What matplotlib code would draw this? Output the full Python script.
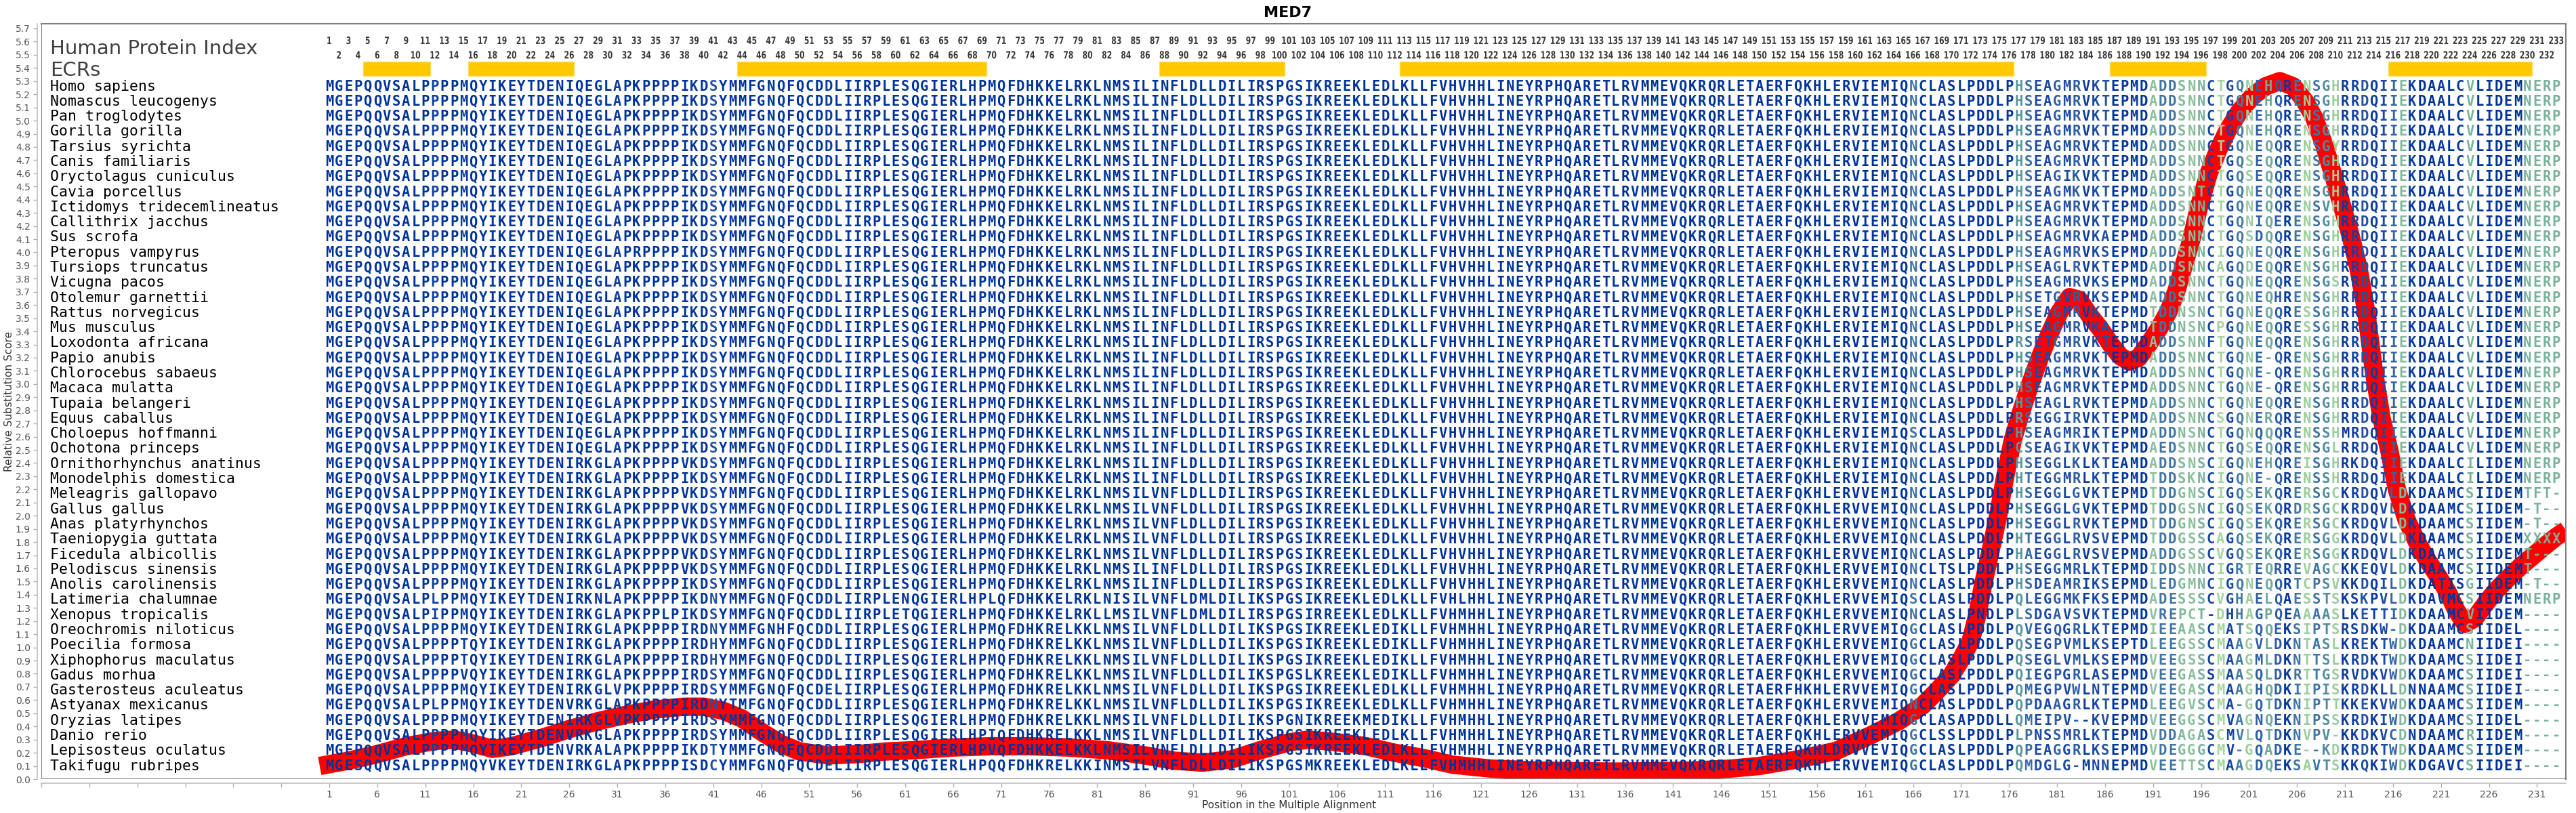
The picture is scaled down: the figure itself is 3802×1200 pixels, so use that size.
import numpy as np
import matplotlib
matplotlib.use("Agg")
import matplotlib.pyplot as plt
from matplotlib.colors import LinearSegmentedColormap, Normalize
from matplotlib.patches import Rectangle, PathPatch
from matplotlib.textpath import TextPath
from matplotlib.font_manager import FontProperties
from matplotlib.transforms import Affine2D
from collections import Counter

# species in alignment order
species = [
    "Homo sapiens", "Nomascus leucogenys", "Pan troglodytes", "Gorilla gorilla",
    "Tarsius syrichta", "Canis familiaris", "Oryctolagus cuniculus", "Cavia porcellus",
    "Ictidomys tridecemlineatus", "Callithrix jacchus", "Sus scrofa", "Pteropus vampyrus",
    "Tursiops truncatus", "Vicugna pacos", "Otolemur garnettii", "Rattus norvegicus",
    "Mus musculus", "Loxodonta africana", "Papio anubis", "Chlorocebus sabaeus",
    "Macaca mulatta", "Tupaia belangeri", "Equus caballus", "Choloepus hoffmanni",
    "Ochotona princeps", "Ornithorhynchus anatinus", "Monodelphis domestica",
    "Meleagris gallopavo", "Gallus gallus", "Anas platyrhynchos", "Taeniopygia guttata",
    "Ficedula albicollis", "Pelodiscus sinensis", "Anolis carolinensis",
    "Latimeria chalumnae", "Xenopus tropicalis", "Oreochromis niloticus",
    "Poecilia formosa", "Xiphophorus maculatus", "Gadus morhua",
    "Gasterosteus aculeatus", "Astyanax mexicanus", "Oryzias latipes", "Danio rerio",
    "Lepisosteus oculatus", "Takifugu rubripes",
]

# alignment columns 1-57
seq_a = [
    "MGEPQQVSALPPPPMQYIKEYTDENIQEGLAPKPPPPIKDSYMMFGNQFQCDDLIIR",
    "MGEPQQVSALPPPPMQYIKEYTDENIQEGLAPKPPPPIKDSYMMFGNQFQCDDLIIR",
    "MGEPQQVSALPPPPMQYIKEYTDENIQEGLAPKPPPPIKDSYMMFGNQFQCDDLIIR",
    "MGEPQQVSALPPPPMQYIKEYTDENIQEGLAPKPPPPIKDSYMMFGNQFQCDDLIIR",
    "MGEPQQVSALPPPPMQYIKEYTDENIQEGLAPKPPPPIKDSYMMFGNQFQCDDLIIR",
    "MGEPQQVSALPPPPMQYIKEYTDENIQEGLAPKPPPPIKDSYMMFGNQFQCDDLIIR",
    "MGEPQQVSALPPPPMQYIKEYTDENIQEGLAPKPPPPIKDSYMMFGNQFQCDDLIIR",
    "MGEPQQVSALPPPPMQYIKEYTDENIQEGLAPKPPPPIKDSYMMFGNQFQCDDLIIR",
    "MGEPQQVSALPPPPMQYIKEYTDENIQEGLAPKPPPPIKDSYMMFGNQFQCDDLIIR",
    "MGEPQQVSALPPPPMQYIKEYTDENIQEGLAPKPPPPIKDSYMMFGNQFQCDDLIIR",
    "MGEPQQVSALPPPPMQYIKEYTDENIQEGLAPKPPPPIKDSYMMFGNQFQCDDLIIR",
    "MGEPQQVSALPPPPMQYIKEYTDENIQEGLAPRPPPPIKDSYMMFGNQFQCDDLIIR",
    "MGEPQQVSALPPPPMQYIKEYTDENIQEGLAPKPPPPIKDSYMMFGNQFQCDDLIIR",
    "MGEPQQVSALPPPPMQYIKEYTDENIQEGLAPKPPPPIKDSYMMFGNQFQCDDLIIR",
    "MGEPQQVSALPPPPMQYIKEYTDENIQEGLAPKPPPPIKDSYMMFGNQFQCDDLIIR",
    "MGEPQQVSALPPPPMQYIKEYTDENIQEGLAPKPPPPIKDSYMMFGNQFQCDDLIIR",
    "MGEPQQVSALPPPPMQYIKEYTDENIQEGLAPKPPPPIKDSYMMFGNQFQCDDLIIR",
    "MGEPQQVSALPPPPMQYIKEYTDENIQEGLAPKPPPPIKDSYMMFGNQFQCDDLIIR",
    "MGEPQQVSALPPPPMQYIKEYTDENIQEGLAPKPPPPIKDSYMMFGNQFQCDDLIIR",
    "MGEPQQVSALPPPPMQYIKEYTDENIQEGLAPKPPPPIKDSYMMFGNQFQCDDLIIR",
    "MGEPQQVSALPPPPMQYIKEYTDENIQEGLAPKPPPPIKDSYMMFGNQFQCDDLIIR",
    "MGEPQQVSALPPPPMQYIKEYTDENIQEGLAPKPPPPIKDSYMMFGNQFQCDDLIIR",
    "MGEPQQVSALPPPPMQYIKEYTDENIQEGLAPKPPPPIKDSYMMFGNQFQCDDLIIR",
    "MGEPQQVSALPPPPMQYIKEYTDENIQEGLAPKPPPPIKDSYMMFGNQFQCDDLIIR",
    "MGEPQQVSALPPPPMQYIKEYTDENIQEGLAPKPPPPIKDSYMMFGNQFQCDDLIIR",
    "MGEPQQVSALPPPPMQYIKEYTDENIRKGLAPKPPPPVKDSYMMFGNQFQCDDLIIR",
    "MGEPQQVSALPPPPMQYIKEYTDENIRKGLAPKPPPPIKDSYMMFGNQFQCDDLIIR",
    "MGEPQQVSALPPPPMQYIKEYTDENIRKGLAPKPPPPVKDSYMMFGNQFQCDDLIIR",
    "MGEPQQVSALPPPPMQYIKEYTDENIRKGLAPKPPPPVKDSYMMFGNQFQCDDLIIR",
    "MGEPQQVSALPPPPMQYIKEYTDENIRKGLAPKPPPPVKDSYMMFGNQFQCDDLIIR",
    "MGEPQQVSALPPPPMQYIKEYTDENIRKGLAPKPPPPVKDSYMMFGNQFQCDDLIIR",
    "MGEPQQVSALPPPPMQYIKEYTDENIRKGLAPKPPPPVKDSYMMFGNQFQCDDLIIR",
    "MGEPQQVSALPPPPMQYIKEYTDENIRKGLAPKPPPPVKDSYMMFGNQFQCDDLIIR",
    "MGEPQQVSALPPPPMQYIKEYTDENIRKGLAPKPPPPIKDSYMMFGNQFQCDDLIIR",
    "MGEPQQVSALPLPPMQYIKEYTDENIRKNLAPKPPPPIKDNYMMFGNQFQCDDLIIR",
    "MGEPQQVSALPIPPMQYIKEYTDENIRKGLAPKPPLPIKDSYMMFGNQFQCDDLIIR",
    "MGEPQQVSALPPPPMQYIKEYTDENIRKGLAPKPPPPIRDNYMMFGNHFQCDDLIIR",
    "MGEPQQVSALPPPPTQYIKEYTDENIRKGLAPKPPPPIRDHYMMFGNQFQCDDLIIR",
    "MGEPQQVSALPPPPTQYIKEYTDENIRKGLAPKPPPPIRDHYMMFGNQFQCDDLIIR",
    "MGEPQQVSALPPPPVQYIKEYTDENIRKGLAPKPPPPIRDSYMMFGNQFQCDDLIIR",
    "MGEPQQVSALPPPPMQYIKEYTDENIRKGLVPKPPPPIRDSYMMFGNQFQCDELIIR",
    "MGEPQQVSALPLPPMQYIKEYTDENVRKGLAPKPPPPIRDNYTMFGNQFQCDDLIIR",
    "MGEPQQVSALPPPPMQYIKEYTDENIRKGLVPKPPPPIRDSYMMFGNQFQCDDLIIR",
    "MGEPQQVSALPPPPMQYIKEYTDENVRKGLAPKPPPPIRDSYMMFGNQFQCDDLIIR",
    "MGEPQQVSALPPPPMQYIKEYTDENVRKALAPKPPPPIKDTYMMFGNQFQCDDLIIR",
    "MGESQQVSALPPPPMQYVKEYTDENIRKGLAPKPPPPISDCYMMFGNQFQCDELIIR",
]

# alignment columns 58-115
seq_b = [
    "PLESQGIERLHPMQFDHKKELRKLNMSILINFLDLLDILIRSPGSIKREEKLEDLKLL",
    "PLESQGIERLHPMQFDHKKELRKLNMSILINFLDLLDILIRSPGSIKREEKLEDLKLL",
    "PLESQGIERLHPMQFDHKKELRKLNMSILINFLDLLDILIRSPGSIKREEKLEDLKLL",
    "PLESQGIERLHPMQFDHKKELRKLNMSILINFLDLLDILIRSPGSIKREEKLEDLKLL",
    "PLESQGIERLHPMQFDHKKELRKLNMSILINFLDLLDILIRSPGSIKREEKLEDLKLL",
    "PLESQGIERLHPMQFDHKKELRKLNMSILINFLDLLDILIRSPGSIKREEKLEDLKLL",
    "PLESQGIERLHPMQFDHKKELRKLNMSILINFLDLLDILIRSPGSIKREEKLEDLKLL",
    "PLESQGIERLHPMQFDHKKELRKLNMSILINFLDLLDILIRSPGSIKREEKLEDLKLL",
    "PLESQGIERLHPMQFDHKKELRKLNMSILINFLDLLDILIRSPGSIKREEKLEDLKLL",
    "PLESQGIERLHPMQFDHKKELRKLNMSILINFLDLLDILIRSPGSIKREEKLEDLKLL",
    "PLESQGIERLHPMQFDHKKELRKLNMSILINFLDLLDILIRSPGSIKREEKLEDLKLL",
    "PLESQGIERLHPMQFDHKKELRKLNMSILINFLDLLDILIRSPGSIKREEKLEDLKLL",
    "PLESQGIERLHPMQFDHKKELRKLNMSILINFLDLLDILIRSPGSIKREEKLEDLKLL",
    "PLESQGIERLHPMQFDHKKELRKLNMSILINFLDLLDILIRSPGSIKREEKLEDLKLL",
    "PLESQGIERLHPMQFDHKKELRKLNMSILINFLDLLDILIRSPGSIKREEKLEDLKLL",
    "PLESQGIERLHPMQFDHKKELRKLNMSILINFLDLLDILIRSPGSIKREEKLEDLKLL",
    "PLESQGIERLHPMQFDHKKELRKLNMSILINFLDLLDILIRSPGSIKREEKLEDLKLL",
    "PLESQGIERLHPMQFDHKKELRKLNMSILINFLDLLDILIRSPGSIKREEKLEDLKLL",
    "PLESQGIERLHPMQFDHKKELRKLNMSILINFLDLLDILIRSPGSIKREEKLEDLKLL",
    "PLESQGIERLHPMQFDHKKELRKLNMSILINFLDLLDILIRSPGSIKREEKLEDLKLL",
    "PLESQGIERLHPMQFDHKKELRKLNMSILINFLDLLDILIRSPGSIKREEKLEDLKLL",
    "PLESQGIERLHPMQFDHKKELRKLNMSILINFLDLLDILIRSPGSIKREEKLEDLKLL",
    "PLESQGIERLHPMQFDHKKELRKLNMSILINFLDLLDILIRSPGSIKREEKLEDLKLL",
    "PLESQGIERLHPMQFDHKKELRKLNMSILINFLDLLDILIRSPGSIKREEKLEDLKLL",
    "PLESQGIERLHPMQFDHKKELRKLNMSILINFLDLLDILIRSPGSIKREEKLEDLKLL",
    "PLESQGIERLHPMQFDHKKELRKLNMSILINFLDLLDILIRSPGSIKREEKLEDLKLL",
    "PLESQGIERLHPMQFDHKKELRKLNMSILINFLDLLDILIRSPGSIKREEKLEDLKLL",
    "PLESQGIERLHPMQFDHKKELRKLNMSILVNFLDLLDILIRSPGSIKREEKLEDLKLL",
    "PLESQGIERLHPMQFDHKKELRKLNMSILVNFLDLLDILIRSPGSIKREEKLEDLKLL",
    "PLESQGIERLHPMQFDHKKELRKLNMSILVNFLDLLDILIRSPGSIKREEKLEDLKLL",
    "PLESQGIERLHPMQFDHKKELRKLNMSILVNFLDLLDILIRSPGSIKREEKLEDLKLL",
    "PLESQGIERLHPMQFDHKKELRKLNMSILVNFLDLLDILIRSPGSIKREEKLEDLKLL",
    "PLESQGIERLHPMQFDHKKELRKLNMSILINFLDLLDILIRSPGSIKREEKLEDLKLL",
    "PLESQGIERLHPMQFDHKKELRKLNMSILINFLDLLDILIRSPGSIKREEKLEDLKLL",
    "PLENQGIERLHPLQFDHKKELRKLNISILVNFLDMLDILIKSPGSIKREEKLEDLKLL",
    "PLETQGIERLHPMQFDHKKELRKLLMSILVNFLDMLDILIRSPGSIRREEKLEDLKLL",
    "PLESQGIERLHPMQFDHKRELKKLNMSILVNFLDLLDILIKSPGSIKREEKLEDIKLL",
    "PLESQGIERLHPMQFDHKRELKKLNMSILVNFLDLLDILIKSPGSIKREEKLEDIKLL",
    "PLESQGIERLHPMQFDHKRELKKLNMSILVNFLDLLDILIKSPGSIKREEKLEDIKLL",
    "PLESQGIERLHPMQFDHKRELKKLNMSILVNFLDLLDILIKSPGSLKREEKLEDIKLL",
    "PLESQGIERLHPMQFDHKRELKKLNMSILVNFLDLLDILIKSPGSIKREEKLEDLKLL",
    "PLESQGIERLHPMQFDHKRELKKLNMSILVNFLDLLDILIKSPGSIKREEKLEDLKLL",
    "PLESQGIERLHPMQFDHKRELKKLNMSILVNFLDLLDILIKSPGNIKREEKMEDIKLL",
    "PLESQGIERLHPIQFDHKRELKKLNMSILVNFLDLLDILIKSPGSIKREEKLEDLKLL",
    "PLESQGIERLHPVQFDHKKELKKLNMSILVNFLDLLDILIKSPGSIKREEKLEDLKLL",
    "PLESQGIERLHPQQFDHKRELKKINMSILVNFLDLLDILIKSPGSMKREEKLEDLKLL",
]

# alignment columns 116-172
seq_c = [
    "FVHVHHLINEYRPHQARETLRVMMEVQKRQRLETAERFQKHLERVIEMIQNCLASLP",
    "FVHVHHLINEYRPHQARETLRVMMEVQKRQRLETAERFQKHLERVIEMIQNCLASLP",
    "FVHVHHLINEYRPHQARETLRVMMEVQKRQRLETAERFQKHLERVIEMIQNCLASLP",
    "FVHVHHLINEYRPHQARETLRVMMEVQKRQRLETAERFQKHLERVIEMIQNCLASLP",
    "FVHVHHLINEYRPHQARETLRVMMEVQKRQRLETAERFQKHLERVIEMIQNCLASLP",
    "FVHVHHLINEYRPHQARETLRVMMEVQKRQRLETAERFQKHLERVIEMIQNCLASLP",
    "FVHVHHLINEYRPHQARETLRVMMEVQKRQRLETAERFQKHLERVIEMIQNCLASLP",
    "FVHVHHLINEYRPHQARETLRVMMEVQKRQRLETAERFQKHLERVIEMIQNCLASLP",
    "FVHVHHLINEYRPHQARETLRVMMEVQKRQRLETAERFQKHLERVIEMIQNCLASLP",
    "FVHVHHLINEYRPHQARETLRVMMEVQKRQRLETAERFQKHLERVIEMIQNCLASLP",
    "FVHVHHLINEYRPHQARETLRVMMEVQKRQRLETAERFQKHLERVIEMIQNCLASLP",
    "FVHVHHLINEYRPHQARETLRVMMEVQKRQRLETAERFQKHLERVIEMIQNCLASLP",
    "FVHVHHLINEYRPHQARETLRVMMEVQKRQRLETAERFQKHLERVIEMIQNCLASLP",
    "FVHVHHLINEYRPHQARETLRVMMEVQKRQRLETAERFQKHLERVIEMIQNCLASLP",
    "FVHVHHLINEYRPHQARETLRVMMEVQKRQRLETAERFQKHLERVIEMIQNCLASLP",
    "FVHVHHLINEYRPHQARETLRVMMEVQKRQRLETAERFQKHLERVIEMIQNCLASLP",
    "FVHVHHLINEYRPHQARETLRVMMEVQKRQRLETAERFQKHLERVIEMIQNCLASLP",
    "FVHVHHLINEYRPHQARETLRVMMEVQKRQRLETAERFQKHLERVIEMIQNCLASLP",
    "FVHVHHLINEYRPHQARETLRVMMEVQKRQRLETAERFQKHLERVIEMIQNCLASLP",
    "FVHVHHLINEYRPHQARETLRVMMEVQKRQRLETAERFQKHLERVIEMIQNCLASLP",
    "FVHVHHLINEYRPHQARETLRVMMEVQKRQRLETAERFQKHLERVIEMIQNCLASLP",
    "FVHVHHLINEYRPHQARETLRVMMEVQKRQRLETAERFQKHLERVIEMIQNCLASLP",
    "FVHVHHLINEYRPHQARETLRVMMEVQKRQRLETAERFQKHLERVIEMIQNCLASLP",
    "FVHVHHLINEYRPHQARETLRVMMEVQKRQRLETAERFQKHLERVIEMIQSCLASLP",
    "FVHVHHLINEYRPHQARETLRVMMEVQKRQRLETAERFQKHLERVIEMIQNCLASLP",
    "FVHVHHLINEYRPHQARETLRVMMEVQKRQRLETAERFQKHLERVIEMIQNCLASLP",
    "FVHVHHLINEYRPHQARETLRVMMEVQKRQRLETAERFQKHLERVIEMIQNCLASLP",
    "FVHVHHLINEYRPHQARETLRVMMEVQKRQRLETAERFQKHLERVVEMIQNCLASLP",
    "FVHVHHLINEYRPHQARETLRVMMEVQKRQRLETAERFQKHLERVVEMIQNCLASLP",
    "FVHVHHLINEYRPHQARETLRVMMEVQKRQRLETAERFQKHLERVVEMIQNCLASLP",
    "FVHVHHLINEYRPHQARETLRVMMEVQKRQRLETAERFQKHLERVVEMIQNCLASLP",
    "FVHVHHLINEYRPHQARETLRVMMEVQKRQRLETAERFQKHLERVVEMIQNCLASLP",
    "FVHVHHLINEYRPHQARETLRVMMEVQKRQRLETAERFQKHLERVVEMIQNCLTSLP",
    "FVHVHHLINEYRPHQARETLRVMMEVQKRQRLETAERFQKHLERVVEMIQNCLASLP",
    "FVHLHHLINEYRPHQARETLRVMMEVQKRQRLETAERFQKHLERVVEMIQSCLASLP",
    "FVHMHHLINEYRPHQARETLRVMMEVQKRQRLETAERFQKHLERVVEMIQNCLASLP",
    "FVHMHHLINEYRPHQARETLRVMMEVQKRQRLETAERFQKHLERVVEMIQGCLASLP",
    "FVHMHHLINEYRPHQARETLRVMMEVQKRQRLETAERFQKHLERVVEMIQGCLASLP",
    "FVHMHHLINEYRPHQARETLRVMMEVQKRQRLETAERFQKHLERVVEMIQGCLASLP",
    "FVHMHHLINEYRPHQARETLRVMMEVQKRQRLETAERFQKHLERVVEMIQGCLASLP",
    "FVHMHHLINEYRPHQARETLRVMMEVQKRQRLETAERFHKHLERVVEMIQGCLASLP",
    "FVHMHHLINEYRPHQARETLRVMMEVQKRQRLETAERFQKHLERVVEMIQNCLASLP",
    "FVHMHHLINEYRPHQARETLRVMMEVQKRQRLETAERFQKHLERVVEMIQGCLASAP",
    "FVHMHHLINEYRPHQARETLRVMMEVQKRQRLETAERFQKHLERVVEMIQGCLSSLP",
    "FVHMHHLINEYRPHQARETLRVMMEVQKRQRLETAERFQKHLDRVVEVIQGCLASLP",
    "FVHMHHLINEYRPHQARETLRVMMEVQKRQRLETAERFQKHLERVVEMIQGCLASLP",
]

# alignment columns 173-233
seq_d = [
    "DDLPHSEAGMRVKTEPMDADDSNNCTGQNEHQRENSGHRRDQIIEKDAALCVLIDEMNERP",
    "DDLPHSEAGMRVKTEPMDADDSNNCTGQNEHQRENSGHRRDQIIEKDAALCVLIDEMNERP",
    "DDLPHSEAGMRVKTEPMDADDSNNCTGQNEHQRENSGHRRDQIIEKDAALCVLIDEMNERP",
    "DDLPHSEAGMRVKTEPMDADDSNNCTGQNEHQRENSGHRRDQIIEKDAALCVLIDEMNERP",
    "DDLPHSEAGMRVKTEPMDADDSNNCTGQNEQQRENSGYRRDQIIEKDAALCVLIDEMNERP",
    "DDLPHSEAGMRVKTEPMDADDSNNCTGQSEQQRENSGHRRDQIIEKDAALCVLIDEMNERP",
    "DDLPHSEAGIKVKTEPMDADDSNNCTGQSEQQRENSGHRRDQIIEKDAALCVLIDEMNERP",
    "DDLPHSEAGMKVKTEPMDADDSNTCTGQNEQQRENSGHRRDQIIEKDAALCVLIDEMNERP",
    "DDLPHSEAGMRVKTEPMDADDSNNCTGQNEQQRENSVHRRDQIIEKDAALCVLIDEMNERP",
    "DDLPHSEAGMRVKTEPMDADDSNNCTGQNIQERENSGHRRDQIIEKDAALCVLIDEMNERP",
    "DDLPHSEAGMRVKAEPMDADDSNNCTGQSDQQRENSGHRRDQIIEKDAALCVLIDEMNERP",
    "DDLPHSEAGMRVKSEPMDADDSNNCIGQNEQQRENSGHRRDQIIEKDAALCVLIDEMNERP",
    "DDLPHSEAGLRVKTEPMDADDSNNCAGQDEQQRENSGHRRDQIIEKDAALCVLIDEMNERP",
    "DDLPHSEAGMRVKSEPMDADDSNNCTGQNEQQRENSGSRRDQIIEKDAALCVLIDEMNERP",
    "DDLPHSETGVRVKSEPMDADDSNNCTGQNEQHRENSGHRRDQIIEKDAALCVLIDEMNERP",
    "DDLPHSEAGMRVKTEPMDTDDNSNCTGQNEQQRESSGHRRDQIIEKDAALCVLIDEMNERP",
    "DDLPHSEAGMRVKAEPMDTDDNSNCPGQNEQQRESSGHRRDQIIEKDAALCVLIDEMNERP",
    "DDLPRSETGMRVKTEPMDADDSNNFTGQNEQQRENSGHRRDQIIEKDAALCVLIDEMNERP",
    "DDLPHSEAGMRVKTEPMDADDSNNCTGQNE-QRENSGHRRDQIIEKDAALCVLIDEMNERP",
    "DDLPHSEAGMRVKTEPMDADDSNNCTGQNE-QRENSGHRRDQIIEKDAALCVLIDEMNERP",
    "DDLPHSEAGMRVKTEPMDADDSNNCTGQNE-QRENSGHRRDQIIEKDAALCVLIDEMNERP",
    "DDLPHSEAGLRVKTEPMDADDSNNCTGQNEQQRENSGHRRDQIIEKDAALCVLIDEMNERP",
    "DDLPRSEGGIRVKTEPMDADDSNNCSGQNERQRENSGHRRDQIIEKDAALCVLIDEMNERP",
    "DDLPHSEAGMRIKTEPMDADDNSNCTGQNQQQRENSSHMRDQIIEKDAALCVLIDEMNERP",
    "DDLPCSEAGIKVKTEPMDAEDSNNCTGQSEQQRENSGLRRDQIIEKDAALCVLIDEMNERP",
    "DDLPHSEGGLKLKTEAMDADDSNSCIGQNEHQREISGHRKDQIIEKDAALCILIDEMNERP",
    "DDLPHTEGGMRLKTEPMDTDDSKNCIGQNE-QRENSSHRRDQIIEKDAALCILIDEMNERP",
    "DDLPHSEGGLGVKTEPMDTDDGNSCIGQSEKQRERSGCKRDQVLDKDAAMCSIIDEMTFT-",
    "DDLPHSEGGLGVKTEPMDTDDGSNCIGQSEKQRDRSGCKRDQVLDKDAAMCSIIDEM-T--",
    "DDLPHSEGGLRVKTEPMDTDDGNSCIGQSEKQRERSGCKRDQVLDKDAAMCSIIDEM-T--",
    "DDLPHTEGGLRVSVEPMDTDDGSSCAGQSEKQRERSGGKRDQVLDKDAAMCSIIDEMXXXX",
    "DDLPHAEGGLRVSVEPMDADDGSSCVGQSEKQRERSGGKRDQVLDKDAAMCSIIDEMT---",
    "DDLPHSEGGMRLKTEPMDIDDSNNCIGRTEQRREVAGCKKEQVLDKDAAMCSIIDEMT---",
    "DDLPHSDEAMRIKSEPMDLEDGMNCIGQNEQQRTCPSVKKDQILDKDATISGIIDEM-T--",
    "DDLPQLEGGMKFKSEPMDADESSSCVGHAELQAESSTSKSKPVLDKDAVMCSIIDEMNERP",
    "NDLPLSDGAVSVKTEPMDVREPCT-DHHAGPQEAAAASLKETTIDKDAAMCVIIDEM----",
    "DDLPQVEGQGRLKTEPMDIEEAASCMATSQQEKSIPTSRSDKW-DKDAAMCSIIDEL----",
    "DDLPQSEGPVMLKSEPTDLEEGSSCMAAGVLDKNTASLKREKTWDKDAAMCNIIDEI----",
    "DDLPQSEGLVMLKSEPMDVEEGSSCMAAGMLDKNTTSLKRDKTWDKDAAMCSIIDEI----",
    "DDLPQIEGPGRLASEPMDVEEGASSMAASQLDKRTTGSRVDKVWDKDAAMCSIIDEI----",
    "DDLPQMEGPVWLNTEPMDVEEGASCMAAGHQDKIIPISKRDKLLDNNAAMCSIIDEI----",
    "DDLPQPDAAGRLKTEPMDLEEGVSCMA-GQTDKNIPTTKKEKVWDKDAAMCSIIDEM----",
    "DDLLQMEIPV--KVEPMDVEEGGSCMVAGNQEKNIPSSKRDKIWDKDAAMCSIIDEL----",
    "DDLPLPNSSMRLKTEPMDVDDAGASCMVLQTDKNVPV-KKDKVCDNDAAMCRIIDEM----",
    "DDLPQPEAGGRLKSEPMDVDEGGGCMV-GQADKE--KDKRDKTWDKDAAMCSIIDEM----",
    "DDLPQMDGLG-MNNEPMDVEETTSCMAAGDQEKSAVTSKKQKIWDKDGAVCSIIDEI----",
]

# conserved regions (first, last column)
ecr_start = [5, 16, 44, 88, 113, 187, 216]
ecr_end = [11, 26, 69, 100, 176, 196, 230]

# smoothed relative substitution score
curve_pos = [0, 3, 6, 9, 12, 14, 16, 18, 20, 23,
             26, 29, 32, 35, 38, 40, 42, 44, 46, 48,
             50, 53, 56, 59, 62, 66, 70, 74, 78, 82,
             86, 89, 92, 95, 98, 101, 103, 106, 109, 112,
             115, 118, 122, 127, 131, 135, 139, 143, 147, 150,
             154, 158, 161.5, 164.5, 167, 168.5, 170, 171, 172, 172.7,
             173.3, 174, 174.8, 175.6, 176.4, 177.3, 178.2, 179.2, 180.2, 181.2,
             182.3, 183.3, 184.3, 185.5, 186.6, 187.6, 188.5, 189.5, 190.5, 191.6,
             192.6, 193.4, 194.2, 195, 195.8, 196.8, 197.8, 198.8, 200, 201.3,
             202.7, 204.2, 205.6, 206.8, 207.8, 208.8, 209.8, 210.7, 211.6, 212.4,
             213.2, 214, 214.8, 215.6, 216.4, 217.4, 218.5, 219.6, 220.7, 221.7,
             222.6, 223.5, 224.5, 225.6, 226.7, 227.9, 229.2, 230.5, 231.8, 233,
             234]
curve_val = [0.10, 0.14, 0.19, 0.25, 0.29, 0.30, 0.27, 0.23, 0.25, 0.31,
             0.38, 0.44, 0.49, 0.53, 0.55, 0.55, 0.52, 0.46, 0.36, 0.27,
             0.21, 0.18, 0.19, 0.21, 0.22, 0.24, 0.25, 0.25, 0.24, 0.22,
             0.18, 0.14, 0.125, 0.15, 0.22, 0.28, 0.30, 0.28, 0.25, 0.20,
             0.16, 0.11, 0.08, 0.065, 0.06, 0.057, 0.06, 0.065, 0.08, 0.10,
             0.15, 0.215, 0.33, 0.44, 0.56, 0.67, 0.79, 0.91, 1.05, 1.25,
             1.48, 1.71, 1.98, 2.30, 2.58, 2.80, 3.00, 3.20, 3.38, 3.54,
             3.66, 3.64, 3.53, 3.42, 3.30, 3.21, 3.17, 3.20, 3.30, 3.42,
             3.55, 3.70, 3.90, 4.10, 4.35, 4.60, 4.78, 4.93, 5.07, 5.18,
             5.26, 5.30, 5.26, 5.15, 5.02, 4.82, 4.58, 4.35, 4.12, 3.88,
             3.55, 3.10, 2.74, 2.50, 2.20, 1.97, 1.80, 1.66, 1.54, 1.42,
             1.28, 1.18, 1.22, 1.33, 1.43, 1.52, 1.61, 1.69, 1.77, 1.84,
             1.89]

seqs = [a + b + c + d for a, b, c, d in zip(seq_a, seq_b, seq_c, seq_d)]
n_pos = 233
for s in seqs:
    assert len(s) == n_pos, len(s)

# column colour from conservation of residue groups
groups = ["ILVM", "FYW", "KRQE", "DN", "ST", "AG", "H", "P", "C", "-", "X"]
grp = {ch: i for i, g in enumerate(groups) for ch in g}
cons = []
for j in range(n_pos):
    counts = Counter(grp[s[j]] for s in seqs)
    cons.append(max(counts.values()) / len(seqs))
cmap = LinearSegmentedColormap.from_list(
    "cons", ["#a4d49c", "#7db59a", "#4f8a9e", "#3465a6", "#1a47a2", "#003399"])
norm = Normalize(0.5, 1.0, clip=True)

mono = "DejaVu Sans Mono"

fig = plt.figure(figsize=(38.02, 12), dpi=100)
ax = fig.add_axes([61 / 3802, 50 / 1200, 3726 / 3802, 1115 / 1200])
ax.set_xlim(-29, 234)
ax.set_ylim(0, 5.736)

# red score curve
ax.plot(curve_pos, curve_val, color="#ff0000", lw=19.5,
        solid_capstyle="butt", solid_joinstyle="round", zorder=2)

# species rows
row_y = 5.26 - np.arange(len(species)) * 0.11467
for name, y, s in zip(species, row_y, seqs):
    ax.text(-28.1, y, name, family=mono, fontsize=15.5, color="black",
            ha="left", va="center", zorder=3)
    for j, ch in enumerate(s):
        ax.text(j + 1, y, ch, family=mono, fontweight="bold", fontsize=14.8,
                color=cmap(norm(cons[j])), ha="center", va="center", zorder=3)

# human protein index numbers, drawn as horizontally squeezed glyphs
num_prop = FontProperties(family="DejaVu Sans", weight="bold")


def squeezed(x, y, s, size_px, sx, color):
    path = TextPath((0, 0), s, size=size_px, prop=num_prop)
    bb = path.get_extents()
    px, py = ax.transData.transform((x, y))
    tr = (Affine2D().translate(-(bb.x0 + bb.x1) / 2, -(bb.y0 + bb.y1) / 2)
          .scale(sx, 1.0).translate(px, py))
    ax.add_artist(PathPatch(path, transform=tr, facecolor=color,
                            edgecolor="none", clip_on=False))


for n in range(1, n_pos + 1):
    squeezed(n, 5.61 if n % 2 else 5.50, str(n), 15, 0.72, "#3a3a3a")

ax.text(-28.1, 5.545, "Human Protein Index", fontsize=21,
        color="#404040", ha="left", va="center")
ax.text(-28.1, 5.38, "ECRs", fontsize=21, color="#404040",
        ha="left", va="center")
ax.broken_barh([(s - 0.5, e - s + 1) for s, e in zip(ecr_start, ecr_end)],
               (5.342, 0.104), facecolors="#ffc800", edgecolors="#ffdc60",
               linewidth=1)

# frame and offset axes
for side in ["top", "right"]:
    ax.spines[side].set_color("#808080")
    ax.spines[side].set_linewidth(1.5)
for side in ["left", "bottom"]:
    ax.spines[side].set_position(("outward", 4))
    ax.spines[side].set_color("#c0c0c0")
    ax.spines[side].set_linewidth(1.2)
ax.add_patch(Rectangle((0, 0), 1, 1, transform=ax.transAxes, fill=False,
                       edgecolor="#808080", linewidth=1.5, zorder=4))

yt = np.round(np.arange(0, 5.75, 0.1), 1)
ax.set_yticks(yt)
ax.set_yticklabels([f"{v:.1f}" for v in yt])
xt = np.arange(-29, 234, 5)
ax.set_xticks(xt)
ax.set_xticklabels([str(t) if t >= 1 else "" for t in xt])
ax.tick_params(axis="both", labelsize=10, labelcolor="#555555", color="#b0b0b0",
               length=4, width=1)

fig.text(0.5, 1 - 19 / 1200, "MED7", fontweight="bold",
         fontsize=16, ha="center", va="center")
fig.text(1903 / 3802, 1 - 1188 / 1200, "Position in the Multiple Alignment",
         fontsize=11, color="#333333", ha="center", va="center")
fig.text(14 / 3802, 1 - 592 / 1200, "Relative Substitution Score",
         fontsize=11, color="#333333", rotation=90, ha="center", va="center")

fig.savefig("out.png", dpi=100)
